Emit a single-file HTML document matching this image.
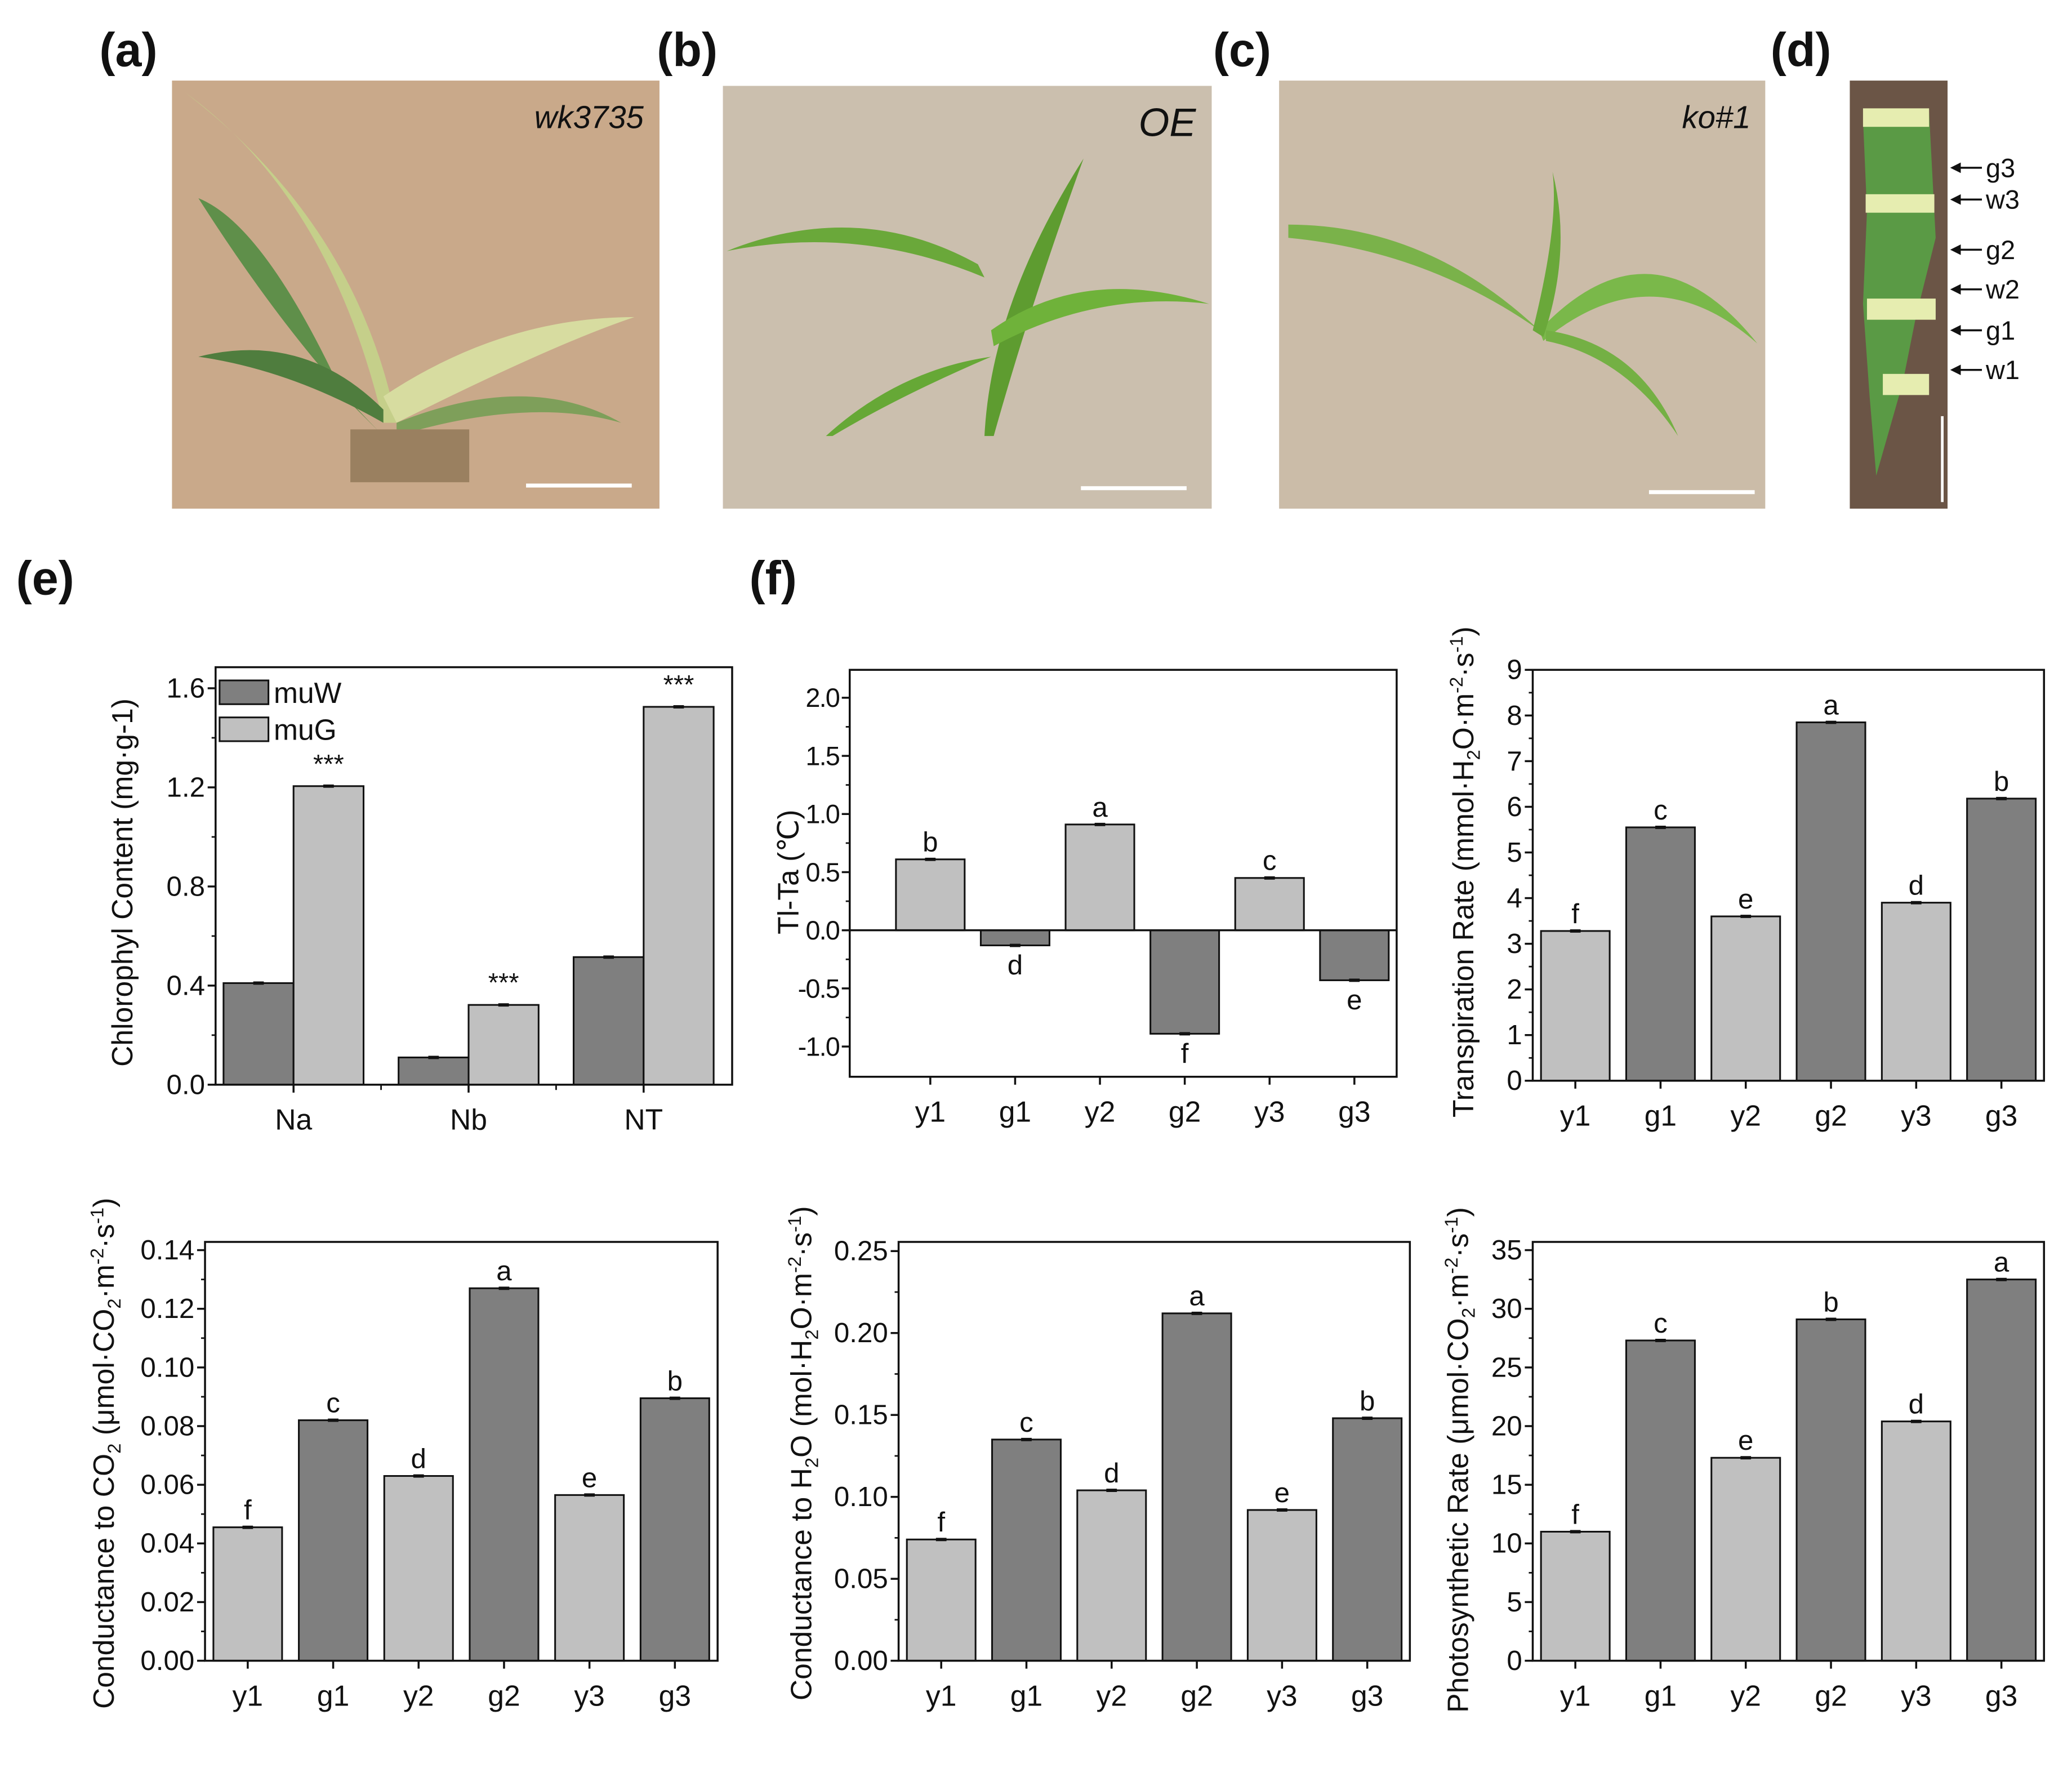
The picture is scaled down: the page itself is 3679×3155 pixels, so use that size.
<!DOCTYPE html>
<html><head><meta charset="utf-8"><style>
html,body{margin:0;padding:0;background:#fff}
svg{display:block}
text{font-family:"Liberation Sans","DejaVu Sans",sans-serif;fill:#111}
</style></head><body>
<svg id="fig" width="3679" height="3155" viewBox="0 0 1568 1345" xmlns="http://www.w3.org/2000/svg">
<g>
<rect x="130" y="61" width="369" height="324" fill="#c9a98a"/>
<path d="M150 150 Q200 170 260 300 L290 330 Q220 260 150 150Z" fill="#5f8f4a"/>
<path d="M140 70 Q250 150 290 320 L300 320 Q270 170 140 70Z" fill="#c5cf8a"/>
<path d="M290 300 Q380 240 480 240 Q420 260 300 320Z" fill="#d7dca0"/>
<path d="M150 270 Q230 250 290 310 L290 320 Q220 280 150 270Z" fill="#4f7d3e"/>
<path d="M300 320 Q400 280 470 320 Q400 300 300 330Z" fill="#7e9f5a"/>
<rect x="265" y="325" width="90" height="40" fill="#9a8060"/>
<text x="487" y="97" font-size="24" font-style="italic" text-anchor="end">wk3735</text>
<rect x="398" y="366" width="80" height="3" fill="#fff"/>
</g>
<g>
<rect x="547" y="65" width="370" height="320" fill="#cbbfae"/>
<path d="M550 190 Q650 150 740 200 L745 210 Q650 170 550 190Z" fill="#6aa83a"/>
<path d="M745 330 Q750 230 820 120 Q780 230 752 330Z" fill="#5e9c30"/>
<path d="M625 330 Q680 280 750 270 Q680 300 630 330Z" fill="#66a836"/>
<path d="M750 250 Q820 200 915 230 Q830 220 752 262Z" fill="#6fb23a"/>
<text x="905" y="103" font-size="30" font-style="italic" text-anchor="end">OE</text>
<rect x="818" y="368" width="80" height="3" fill="#fff"/>
</g>
<g>
<rect x="968" y="61" width="368" height="324" fill="#cbbca8"/>
<path d="M975 170 Q1080 170 1165 250 Q1080 190 975 180Z" fill="#7ab24a"/>
<path d="M1165 250 Q1250 160 1330 260 Q1250 190 1168 258Z" fill="#7ab84a"/>
<path d="M1160 250 Q1180 170 1175 130 Q1190 190 1168 255Z" fill="#6aa83a"/>
<path d="M1170 250 Q1240 260 1270 330 Q1230 270 1170 258Z" fill="#74b044"/>
<text x="1325" y="97" font-size="24" font-style="italic" text-anchor="end">ko#1</text>
<rect x="1248" y="371" width="80" height="3" fill="#fff"/>
</g>
<g>
<rect x="1400" y="61" width="74" height="324" fill="#6b5546"/>
<path d="M1410 90 L1460 85 L1465 180 L1450 240 L1440 290 L1420 360 L1415 300 L1410 230 L1413 160Z" fill="#5a9a45"/>
<rect x="1410" y="82" width="50" height="14" fill="#e6edb0"/>
<rect x="1412" y="147" width="52" height="14" fill="#e6edb0"/>
<rect x="1413" y="226" width="52" height="16" fill="#e6edb0"/>
<rect x="1425" y="283" width="35" height="16" fill="#e6edb0"/>
<rect x="1469" y="315" width="2" height="65" fill="#fff"/>
</g>
<g id="dlabels"></g>
<g font-weight="bold" font-size="36">
<text x="75" y="50">(a)</text>
<text x="497" y="50">(b)</text>
<text x="918" y="50">(c)</text>
<text x="1340" y="50">(d)</text>
<text x="12" y="450">(e)</text>
<text x="567" y="450">(f)</text>
</g>
<g id="charts"></g>
</svg>
<script>
// ---- Chart e data ----
const chlCats = ["Na","Nb","NT"];
const chlMuW = [0.41,0.11,0.515];
const chlMuG = [1.205,0.322,1.525];
const chlTicks = [0.0,0.4,0.8,1.2,1.6];
// ---- Shared categories ----
const segCats = ["y1","g1","y2","g2","y3","g3"];
const segShade = ["l","d","l","d","l","d"];
// ---- Tl-Ta ----
const tempVals = [0.61,-0.13,0.91,-0.89,0.45,-0.43];
const tempLetters = ["b","d","a","f","c","e"];
const tempTicks = [-1.0,-0.5,0.0,0.5,1.0,1.5,2.0];
// ---- Transpiration ----
const transVals = [3.28,5.55,3.6,7.85,3.9,6.18];
const transLetters = ["f","c","e","a","d","b"];
const transTicks = [0,1,2,3,4,5,6,7,8,9];
// ---- CO2 conductance ----
const co2Vals = [0.0455,0.082,0.063,0.127,0.0565,0.0895];
const co2Letters = ["f","c","d","a","e","b"];
const co2Ticks = [0.00,0.02,0.04,0.06,0.08,0.10,0.12,0.14];
// ---- H2O conductance ----
const h2oVals = [0.074,0.135,0.104,0.212,0.092,0.148];
const h2oLetters = ["f","c","d","a","e","b"];
const h2oTicks = [0.00,0.05,0.10,0.15,0.20,0.25];
// ---- Photosynthetic ----
const photoVals = [11.0,27.3,17.3,29.1,20.4,32.5];
const photoLetters = ["f","c","e","b","d","a"];
const photoTicks = [0,5,10,15,20,25,30,35];
// ---- leaf labels ----
const leafLabels = ["g3","w3","g2","w2","g1","w1"];
const leafY = [127,151,189,219,250,280];

const NS="http://www.w3.org/2000/svg";
const root=document.getElementById('charts');
const DARK="#7f7f7f", LIGHT="#c0c0c0";
function mk(tag,attrs,parent){const e=document.createElementNS(NS,tag);for(const k in attrs)e.setAttribute(k,attrs[k]);(parent||root).appendChild(e);return e;}

const dl=document.getElementById('dlabels');
leafLabels.forEach((l,i)=>{
  const ln=mk('line',{x1:1480,y1:leafY[i],x2:1500,y2:leafY[i],stroke:'#111','stroke-width':1.5},dl);
  
  
  const p=mk('path',{d:`M1476 ${leafY[i]} l8 -4 v8z`,fill:'#111'},dl);
  
  
  const t=mk('text',{x:1503,y:leafY[i]+7,'font-size':20},dl);
  t.textContent=l;
  
  
});

function fmt(v,d){return v.toFixed(d);}

function chart(cfg){
  const g=mk('g',{});
  
  
  const {x0,x1,y0,y1,vmin,vmax}=cfg;
  const Y=v=>y1-(v-vmin)/(vmax-vmin)*(y1-y0);
  const n=cfg.cats.length;
  const step=cfg.step||(x1-x0)/n;
  const c0=cfg.c0||(x0+step/2);
  const X=i=>c0+step*i;
  const fs=cfg.fs||21;
  const bw=cfg.bw;
  cfg.cats.forEach((c,i)=>{
    (cfg.series).forEach((s,si)=>{
      const v=s.vals[i];
      const cx=X(i)+(s.off||0)*bw;
      const yb=Y(cfg.base||0), yv=Y(v);
      const r=mk('rect',{x:cx-bw/2,y:Math.min(yb,yv),width:bw,height:Math.abs(yb-yv),fill:s.color?s.color:(segShade[i]=='d'?DARK:LIGHT),stroke:'#111','stroke-width':1.3},g);
      
      
      const eb=mk('line',{x1:cx-4,x2:cx+4,y1:yv,y2:yv,stroke:'#111','stroke-width':2.5},g);
      
      
      if(s.letters){
        const below=v<0;
        const t=mk('text',{x:cx,y:below?yv+22:yv-6,'font-size':21,'text-anchor':'middle'},g);
        t.textContent=s.letters[i];
        
        
      }
      if(s.stars){
        const t=mk('text',{x:cx,y:yv-10,'font-size':20,'text-anchor':'middle'},g);
        t.textContent='***';
        
        
      }
    });
  });
  const fr=mk('rect',{x:x0,y:y0,width:x1-x0,height:y1-y0,fill:'none',stroke:'#111','stroke-width':1.5},g);
  
  
  if(cfg.base!==undefined){
    const zl=mk('line',{x1:x0,x2:x1,y1:Y(0),y2:Y(0),stroke:'#111','stroke-width':1.5},g);
    
    
  }
  cfg.ticks.forEach((v,k)=>{
    const y=Y(v);
    const tl=mk('line',{x1:x0-6,x2:x0,y1:y,y2:y,stroke:'#111','stroke-width':1.5},g);
    
    
    const t=mk('text',{x:x0-8,y:y+7,'font-size':fs,'text-anchor':'end','letter-spacing':cfg.ls||0},g);
    t.textContent=fmt(v,cfg.dec);
    
    
    if(cfg.minor && k<cfg.ticks.length-1){
      const ym=Y((v+cfg.ticks[k+1])/2);
      const ml=mk('line',{x1:x0-3,x2:x0,y1:ym,y2:ym,stroke:'#111','stroke-width':1.2},g);
      
      
    }
  });
  cfg.cats.forEach((c,i)=>{
    const x=X(i);
    const tl=mk('line',{x1:x,x2:x,y1:y1,y2:y1+6,stroke:'#111','stroke-width':1.5},g);
    
    
    if(cfg.minorX && i<n-1){
      const ml=mk('line',{x1:x+step/2,x2:x+step/2,y1:y1,y2:y1+4,stroke:'#111','stroke-width':1.2},g);
      
      
    }
    const t=mk('text',{x:x,y:y1+34,'font-size':22,'text-anchor':'middle'},g);
    t.textContent=c;
    
    
  });
  const tt=mk('text',{x:0,y:0,'font-size':22,'text-anchor':'middle',transform:`translate(${cfg.tx},${cfg.ty}) rotate(-90)`},g);
  tt.innerHTML=cfg.title;
  
  
  return g;
}

const ge=chart({name:'chlorophyll-chart',x0:163,x1:554,y0:505,y1:821,vmin:0,vmax:1.685,cats:chlCats,c0:222,step:132.5,bw:53,dec:1,minor:true,minorX:true,
  series:[{key:'muW',vals:chlMuW,color:DARK,off:-0.5},{key:'muG',vals:chlMuG,color:LIGHT,off:0.5,stars:true}],
  ticks:chlTicks,tx:100,ty:668,title:'Chlorophyl Content (mg·g-1)'});
[["muW",DARK,515],["muG",LIGHT,543]].forEach(([l,c,y])=>{
  const r=mk('rect',{x:166,y:y,width:37,height:18,fill:c,stroke:'#111','stroke-width':1.3},ge);
  
  
  const t=mk('text',{x:207,y:y+17,'font-size':22},ge);
  t.textContent=l;
  
  
});

chart({name:'leaf-temperature-chart',x0:643,x1:1057,y0:507,y1:815,vmin:-1.26,vmax:2.24,base:0,cats:segCats,c0:704,step:64.2,bw:52,dec:1,minor:true,fs:20,ls:-0.8,
  series:[{vals:tempVals,letters:tempLetters}],ticks:tempTicks,tx:604,ty:660,title:'Tl-Ta (℃)'});
chart({name:'transpiration-chart',x0:1160,x1:1547,y0:507,y1:818,vmin:0,vmax:9,cats:segCats,bw:52,dec:0,minor:true,
  series:[{vals:transVals,letters:transLetters}],ticks:transTicks,tx:1115,ty:660,
  title:'Transpiration Rate (mmol·H<tspan font-size="14" dy="5">2</tspan><tspan dy="-5">O·m</tspan><tspan font-size="14" dy="-8">-2</tspan><tspan dy="8">·s</tspan><tspan font-size="14" dy="-8">-1</tspan><tspan dy="8">)</tspan>'});
chart({name:'co2-conductance-chart',x0:155,x1:543,y0:940,y1:1257,vmin:0,vmax:0.1428,cats:segCats,bw:52,dec:2,minor:true,
  series:[{vals:co2Vals,letters:co2Letters}],ticks:co2Ticks,tx:86,ty:1100,
  title:'Conductance to CO<tspan font-size="14" dy="5">2</tspan><tspan dy="-5"> (μmol·CO</tspan><tspan font-size="14" dy="5">2</tspan><tspan dy="-5">·m</tspan><tspan font-size="14" dy="-8">-2</tspan><tspan dy="8">·s</tspan><tspan font-size="14" dy="-8">-1</tspan><tspan dy="8">)</tspan>'});
chart({name:'h2o-conductance-chart',x0:680,x1:1067,y0:940,y1:1257,vmin:0,vmax:0.2556,cats:segCats,bw:52,dec:2,minor:true,
  series:[{vals:h2oVals,letters:h2oLetters}],ticks:h2oTicks,tx:614,ty:1100,
  title:'Conductance to H<tspan font-size="14" dy="5">2</tspan><tspan dy="-5">O (mol·H</tspan><tspan font-size="14" dy="5">2</tspan><tspan dy="-5">O·m</tspan><tspan font-size="14" dy="-8">-2</tspan><tspan dy="8">·s</tspan><tspan font-size="14" dy="-8">-1</tspan><tspan dy="8">)</tspan>'});
chart({name:'photosynthetic-rate-chart',x0:1160,x1:1547,y0:940,y1:1257,vmin:0,vmax:35.7,cats:segCats,bw:52,dec:0,minor:true,
  series:[{vals:photoVals,letters:photoLetters}],ticks:photoTicks,tx:1111,ty:1105,
  title:'Photosynthetic Rate (μmol·CO<tspan font-size="14" dy="5">2</tspan><tspan dy="-5">·m</tspan><tspan font-size="14" dy="-8">-2</tspan><tspan dy="8">·s</tspan><tspan font-size="14" dy="-8">-1</tspan><tspan dy="8">)</tspan>'});
</script>
</body></html>
